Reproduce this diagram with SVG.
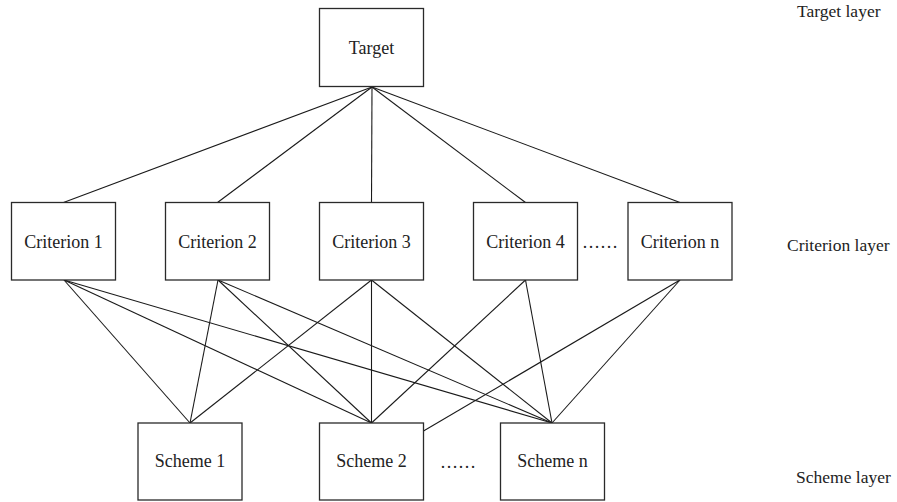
<svg xmlns="http://www.w3.org/2000/svg" width="897" height="502" viewBox="0 0 897 502">
<style>
.box{fill:#fff;stroke:#2a2a2a;stroke-width:1.3}
.t{font-family:"Liberation Serif","DejaVu Serif",serif;font-size:18px;fill:#222;text-anchor:middle}
.l{font-family:"Liberation Serif","DejaVu Serif",serif;font-size:17.5px;fill:#222}
.c line{stroke:#1a1a1a;stroke-width:1.1}
</style>
<rect width="897" height="502" fill="#fff"/>
<g class="c" id="connectors">
<line x1="372" y1="87" x2="63.5" y2="202.5"/>
<line x1="372" y1="87" x2="217.5" y2="202.5"/>
<line x1="372" y1="87" x2="371.5" y2="202.5"/>
<line x1="372" y1="87" x2="525.5" y2="202.5"/>
<line x1="372" y1="87" x2="680" y2="202.5"/>
<line x1="64" y1="280" x2="190" y2="423"/>
<line x1="64" y1="280" x2="371.5" y2="423"/>
<line x1="64" y1="280" x2="552" y2="423"/>
<line x1="218" y1="280" x2="190" y2="423"/>
<line x1="218" y1="280" x2="371.5" y2="423"/>
<line x1="218" y1="280" x2="552" y2="423"/>
<line x1="371.5" y1="280" x2="190" y2="423"/>
<line x1="371.5" y1="280" x2="371.5" y2="423"/>
<line x1="371.5" y1="280" x2="552" y2="423"/>
<line x1="525.5" y1="280" x2="371.5" y2="423"/>
<line x1="525.5" y1="280" x2="552" y2="423"/>
<line x1="680" y1="280" x2="423.5" y2="431"/>
<line x1="680" y1="280" x2="552" y2="423"/>
</g>
<g id="target"><rect class="box" x="319.5" y="8.5" width="104" height="78"/><text class="t" x="371.5" y="53.5">Target</text></g>
<g id="criterion1"><rect class="box" x="11.5" y="202.5" width="104" height="77.5"/><text class="t" x="63.5" y="247.5">Criterion 1</text></g>
<g id="criterion2"><rect class="box" x="165.5" y="202.5" width="104" height="77.5"/><text class="t" x="217.5" y="247.5">Criterion 2</text></g>
<g id="criterion3"><rect class="box" x="319.5" y="202.5" width="104" height="77.5"/><text class="t" x="371.5" y="247.5">Criterion 3</text></g>
<g id="criterion4"><rect class="box" x="473.5" y="202.5" width="104" height="77.5"/><text class="t" x="525.5" y="247.5">Criterion 4</text></g>
<g id="criterionN"><rect class="box" x="628" y="202.5" width="104" height="77.5"/><text class="t" x="680" y="247.5">Criterion n</text></g>
<g id="dots1"><text class="t" x="600" y="247.5">……</text></g>
<g id="scheme1"><rect class="box" x="138" y="423" width="104" height="77"/><text class="t" x="190" y="467">Scheme 1</text></g>
<g id="scheme2"><rect class="box" x="319.5" y="423" width="104" height="77"/><text class="t" x="371.5" y="467">Scheme 2</text></g>
<g id="schemeN"><rect class="box" x="500.5" y="423" width="104" height="77"/><text class="t" x="552.5" y="467">Scheme n</text></g>
<g id="dots2"><text class="t" x="458" y="468">……</text></g>
<g id="layers">
<text class="l" x="797" y="17">Target layer</text>
<text class="l" x="787" y="251">Criterion layer</text>
<text class="l" x="796" y="483">Scheme layer</text>
</g>
</svg>
